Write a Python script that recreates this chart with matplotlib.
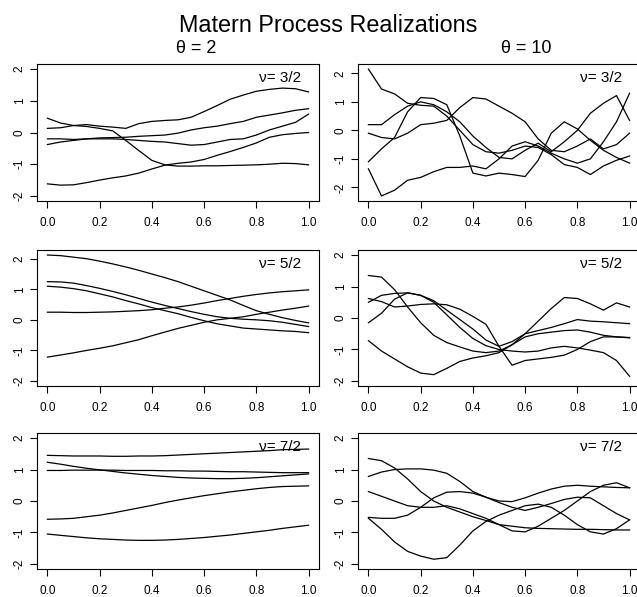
# Matern process realizations, 3x2 panels (theta by column, nu by row)

import numpy as np
import matplotlib
matplotlib.use('Agg')
from matplotlib import pyplot as plt

plt.rcParams['font.family'] = ['Liberation Sans', 'DejaVu Sans']
plt.rcParams['axes.unicode_minus'] = False

x = np.linspace(0, 1, 21)

# theta = 2, nu = 3/2
a1 = [0.45, 0.3, 0.22, 0.19, 0.13, 0.05, -0.25, -0.57, -0.88, -1.02, -1.06, -1.06, -1.05, -1.05, -1.04, -1.03, -1.02, -1.0, -0.97, -0.98, -1.02]
a2 = [0.13, 0.15, 0.22, 0.25, 0.2, 0.17, 0.13, 0.28, 0.35, 0.38, 0.4, 0.48, 0.66, 0.85, 1.05, 1.18, 1.3, 1.36, 1.4, 1.38, 1.28]
a3 = [-0.38, -0.3, -0.25, -0.2, -0.17, -0.16, -0.15, -0.12, -0.1, -0.08, -0.02, 0.08, 0.15, 0.2, 0.28, 0.35, 0.48, 0.55, 0.62, 0.7, 0.75]
a4 = [-0.2, -0.2, -0.22, -0.2, -0.2, -0.2, -0.22, -0.25, -0.28, -0.3, -0.35, -0.4, -0.38, -0.3, -0.22, -0.2, -0.08, 0.08, 0.2, 0.32, 0.58]
a5 = [-1.62, -1.66, -1.65, -1.58, -1.5, -1.43, -1.37, -1.28, -1.15, -1.03, -0.97, -0.93, -0.85, -0.72, -0.6, -0.47, -0.33, -0.15, -0.07, -0.03, 0.0]

# theta = 10, nu = 3/2
b1 = [2.15, 1.45, 1.28, 0.95, 0.88, 0.85, 0.5, 0.0, -0.5, -0.75, -0.8, -0.7, -0.55, -0.6, -0.85, -1.2, -1.3, -1.55, -1.25, -1.05, -0.9]
b2 = [-1.1, -0.65, -0.25, 0.65, 1.15, 1.12, 0.9, -0.2, -1.5, -1.6, -1.5, -1.55, -1.62, -1.05, -0.1, 0.3, 0.05, -0.35, -0.7, -0.95, -1.15]
b3 = [-0.1, -0.25, -0.3, -0.1, 0.2, 0.25, 0.35, 0.8, 1.15, 1.1, 0.85, 0.6, 0.3, -0.3, -0.7, -0.75, -0.55, -0.3, -0.65, -0.5, -0.1]
b4 = [0.2, 0.2, 0.55, 0.85, 1.0, 0.9, 0.65, 0.3, -0.2, -0.6, -0.95, -1.0, -0.7, -0.45, -0.75, -0.4, 0.0, 0.6, 0.95, 1.22, 0.35]
b5 = [-1.35, -2.3, -2.1, -1.75, -1.65, -1.45, -1.3, -1.3, -1.25, -1.35, -1.0, -0.55, -0.4, -0.55, -0.8, -1.0, -1.15, -1.0, -0.4, 0.3, 1.3]

# theta = 2, nu = 5/2
c1 = [2.12, 2.1, 2.05, 2.0, 1.92, 1.83, 1.73, 1.62, 1.5, 1.38, 1.25, 1.1, 0.95, 0.8, 0.65, 0.47, 0.3, 0.18, 0.07, -0.02, -0.1]
c2 = [1.25, 1.24, 1.2, 1.12, 1.03, 0.93, 0.82, 0.7, 0.58, 0.47, 0.37, 0.27, 0.18, 0.1, 0.05, 0.02, 0.0, -0.03, -0.08, -0.15, -0.22]
c3 = [1.1, 1.07, 1.02, 0.95, 0.85, 0.75, 0.63, 0.52, 0.4, 0.3, 0.2, 0.08, -0.03, -0.13, -0.2, -0.27, -0.3, -0.33, -0.36, -0.38, -0.42]
c4 = [0.25, 0.25, 0.24, 0.24, 0.25, 0.26, 0.28, 0.3, 0.33, 0.38, 0.42, 0.48, 0.55, 0.63, 0.7, 0.77, 0.83, 0.88, 0.92, 0.95, 0.98]
c5 = [-1.22, -1.15, -1.08, -1.0, -0.93, -0.85, -0.75, -0.65, -0.52, -0.4, -0.28, -0.18, -0.08, 0.0, 0.05, 0.1, 0.18, 0.25, 0.32, 0.38, 0.45]

# theta = 10, nu = 5/2
d1 = [1.35, 1.3, 0.9, 0.35, -0.15, -0.55, -0.78, -0.92, -1.05, -1.1, -1.05, -0.85, -0.5, -0.1, 0.3, 0.65, 0.62, 0.45, 0.25, 0.48, 0.35]
d2 = [0.62, 0.52, 0.35, 0.38, 0.43, 0.45, 0.42, 0.28, 0.05, -0.2, -0.9, -1.5, -1.35, -1.3, -1.25, -1.18, -1.0, -0.75, -0.6, -0.6, -0.62]
d3 = [0.5, 0.72, 0.78, 0.8, 0.72, 0.55, 0.25, -0.05, -0.35, -0.7, -0.9, -0.75, -0.5, -0.4, -0.3, -0.18, -0.05, -0.1, -0.12, -0.15, -0.18]
d4 = [-0.15, 0.15, 0.6, 0.8, 0.72, 0.5, 0.1, -0.3, -0.65, -0.88, -1.0, -1.05, -1.08, -1.05, -0.95, -0.9, -0.95, -1.02, -1.1, -1.35, -1.85]
d5 = [-0.72, -1.05, -1.3, -1.55, -1.75, -1.8, -1.6, -1.38, -1.27, -1.2, -1.1, -0.85, -0.6, -0.5, -0.45, -0.4, -0.38, -0.45, -0.55, -0.6, -0.63]

# theta = 2, nu = 7/2
e1 = [1.45, 1.44, 1.43, 1.43, 1.43, 1.42, 1.42, 1.43, 1.43, 1.44, 1.46, 1.48, 1.5, 1.52, 1.54, 1.56, 1.58, 1.6, 1.63, 1.64, 1.65]
e2 = [1.23, 1.17, 1.1, 1.04, 0.99, 0.94, 0.89, 0.85, 0.81, 0.78, 0.75, 0.73, 0.72, 0.71, 0.71, 0.72, 0.74, 0.77, 0.8, 0.83, 0.86]
e3 = [0.97, 0.97, 0.98, 0.98, 0.98, 0.98, 0.97, 0.97, 0.97, 0.96, 0.96, 0.95, 0.95, 0.94, 0.93, 0.93, 0.92, 0.91, 0.9, 0.9, 0.9]
e4 = [-0.58, -0.57, -0.55, -0.5, -0.45, -0.38, -0.3, -0.22, -0.14, -0.05, 0.03, 0.1, 0.17, 0.23, 0.29, 0.34, 0.39, 0.43, 0.46, 0.47, 0.48]
e5 = [-1.05, -1.09, -1.13, -1.17, -1.2, -1.22, -1.24, -1.25, -1.25, -1.24, -1.22, -1.19, -1.16, -1.12, -1.08, -1.03, -0.98, -0.93, -0.87, -0.82, -0.77]

# theta = 10, nu = 7/2
f1 = [0.78, 0.92, 1.0, 1.02, 1.02, 0.98, 0.88, 0.62, 0.3, 0.12, 0.0, -0.02, 0.1, 0.25, 0.38, 0.47, 0.5, 0.47, 0.45, 0.43, 0.42]
f2 = [1.35, 1.28, 1.05, 0.7, 0.3, 0.0, -0.2, -0.35, -0.5, -0.62, -0.75, -0.8, -0.85, -0.87, -0.88, -0.89, -0.9, -0.9, -0.91, -0.92, -0.92]
f3 = [0.3, 0.15, 0.0, -0.15, -0.2, -0.2, -0.15, -0.25, -0.4, -0.55, -0.75, -0.95, -0.98, -0.8, -0.55, -0.3, 0.0, 0.3, 0.5, 0.58, 0.42]
f4 = [-0.52, -0.55, -0.55, -0.45, -0.2, 0.1, 0.28, 0.3, 0.25, 0.12, -0.05, -0.2, -0.3, -0.2, -0.08, 0.05, 0.12, 0.1, -0.15, -0.4, -0.6]
f5 = [-0.55, -0.9, -1.3, -1.6, -1.75, -1.85, -1.8, -1.4, -0.95, -0.65, -0.45, -0.3, -0.15, -0.1, -0.2, -0.45, -0.75, -0.98, -1.05, -0.88, -0.6]

nu_labels = ['\u03bd= 3/2', '\u03bd= 5/2', '\u03bd= 7/2']
theta_labels = ['\u03b8 = 2', '\u03b8 = 10']
xticks = [0.0, 0.2, 0.4, 0.6, 0.8, 1.0]
yticks = [-2, -1, 0, 1, 2]

panels = [[(a1, a2, a3, a4, a5), (b1, b2, b3, b4, b5)],
          [(c1, c2, c3, c4, c5), (d1, d2, d3, d4, d5)],
          [(e1, e2, e3, e4, e5), (f1, f2, f3, f4, f5)]]

W, H = 637.0, 597.0
fig = plt.figure(figsize=(W / 100, H / 100), dpi=100)

cols = [(37, 319), (358, 640)]
rows = [(64, 201), (250, 386), (433, 569)]

for i in range(3):
    for j in range(2):
        x0, x1 = cols[j]
        y0, y1 = rows[i]
        ax = fig.add_axes([x0 / W, 1 - y1 / H, (x1 - x0) / W, (y1 - y0) / H])
        curves = panels[i][j]
        for c in curves:
            ax.plot(x, c, color='black', lw=0.9)
        lo = min(-2, min(min(c) for c in curves))
        hi = max(2, max(max(c) for c in curves))
        pad = 0.04 * (hi - lo)
        ax.set_ylim(lo - pad, hi + pad)
        ax.set_xlim(-0.04, 1.04)
        ax.set_xticks(xticks)
        ax.set_xticklabels(['%.1f' % t for t in xticks])
        ax.set_yticks(yticks)
        ax.set_yticklabels([str(t) for t in yticks], rotation=90, va='center')
        ax.tick_params(direction='out', length=5, width=0.8, labelsize=8.5)
        ax.tick_params(axis='x', pad=6.5)
        ax.tick_params(axis='y', pad=3)
        for s in ax.spines.values():
            s.set_linewidth(0.8)
        ax.text(1 - 18 / 282, 1 - 14 / 137, nu_labels[i], transform=ax.transAxes,
                ha='right', va='center', fontsize=11)

fig.text(328 / W, 1 - 31.7 / H, 'Matern Process Realizations', ha='center',
         va='baseline', fontsize=16.8)
fig.text(196 / W, 1 - 53.3 / H, theta_labels[0], ha='center', va='baseline', fontsize=13)
fig.text(526 / W, 1 - 53.3 / H, theta_labels[1], ha='center', va='baseline', fontsize=13)

plt.savefig('out.png', dpi=100)
